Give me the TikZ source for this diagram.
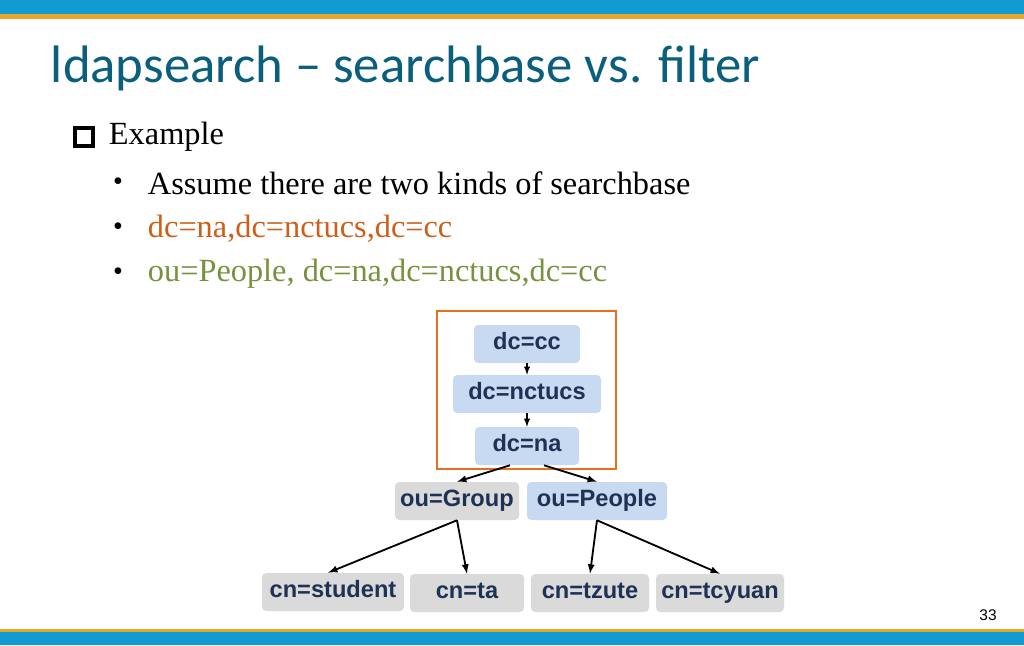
\documentclass[tikz,border=0pt]{standalone}
\usepackage{fontspec}
\setmainfont{Liberation Serif}
\newfontfamily\titlefont{Carlito}
\newfontfamily\boxfont{Liberation Sans}
\begin{document}
\begin{tikzpicture}[x=0.025cm,y=-0.025cm,
  bx/.style={rounded corners=3pt,minimum height=38*0.025cm,inner sep=0pt,text height=12pt,text depth=3.5pt,font=\boxfont\bfseries\fontsize{16.8}{19}\selectfont,text=navy},
  bl/.style={bx,fill=lblue},
  gr/.style={bx,fill=lgray},
  arr/.style={-latex,line width=1.3pt}]
\definecolor{navy}{RGB}{30,50,85}
\definecolor{lblue}{RGB}{200,218,242}
\definecolor{lgray}{RGB}{218,218,218}
\definecolor{topblue}{RGB}{18,155,210}
\definecolor{oran}{RGB}{232,165,40}
\definecolor{teal}{RGB}{10,95,125}
\definecolor{redor}{RGB}{205,95,25}
\definecolor{boxor}{RGB}{230,110,30}
\definecolor{olive}{RGB}{118,146,60}
\useasboundingbox (0,0) rectangle (1024,645);
\fill[topblue] (0,0) rectangle (1024,14);
\fill[oran] (0,14) rectangle (1024,19);
\fill[oran] (0,629) rectangle (1024,632);
\fill[topblue] (0,632) rectangle (1024,645);
\node[anchor=west,text=teal,font=\titlefont\fontsize{37.5}{42}\selectfont] (title) at (46,68) {ldapsearch – searchbase vs. filter};
\node[draw,line width=2.6pt,minimum size=12.5pt,inner sep=0pt] (sq) at (84,137) {};
\node[anchor=west,font=\fontsize{23}{27}\selectfont] (ex) at (104,137) {Example};
\node[font=\fontsize{20}{24}\selectfont] (b1) at (118,184) {•};
\node[font=\fontsize{20}{24}\selectfont] (b2) at (118,229) {•};
\node[font=\fontsize{20}{24}\selectfont] (b3) at (118,274) {•};
\node[anchor=west,font=\fontsize{23}{27}\selectfont] (t1) at (143,183) {Assume there are two kinds of searchbase};
\node[anchor=west,text=redor,font=\fontsize{23}{27}\selectfont] (t2) at (143,229) {dc=na,dc=nctucs,dc=cc};
\node[anchor=west,text=olive,font=\fontsize{23}{27}\selectfont] (t3) at (143,274) {ou=People, dc=na,dc=nctucs,dc=cc};
\node[bl,minimum width=106*0.025cm] (cc) at (527,344) {dc=cc};
\node[bl,minimum width=148*0.025cm] (nc) at (527,394) {dc=nctucs};
\node[bl,minimum width=104*0.025cm] (na) at (527,446) {dc=na};
\draw[boxor,line width=2pt] (437,311) rectangle (616,469);
\node[gr,minimum width=124*0.025cm] (grp) at (457,501) {ou=Group};
\node[bl,minimum width=140*0.025cm] (ppl) at (597,501) {ou=People};
\node[gr,minimum width=142*0.025cm] (st) at (333,592) {cn=student};
\node[gr,minimum width=114*0.025cm] (ta) at (467,593) {cn=ta};
\node[gr,minimum width=118*0.025cm] (tz) at (590,593) {cn=tzute};
\node[gr,minimum width=128*0.025cm] (tc) at (720,593) {cn=tcyuan};
\draw[arr,line width=1pt] (cc.south) -- (nc.north);
\draw[arr,line width=1pt] (nc.south) -- (na.north);
\draw[arr] ([xshift=-17*0.025cm]na.south) -- (grp.north);
\draw[arr] ([xshift=17*0.025cm]na.south) -- (ppl.north);
\draw[arr] (grp.south) -- ([xshift=-5*0.025cm]st.north);
\draw[arr] (grp.south) -- (ta.north);
\draw[arr] (ppl.south) -- (tz.north);
\draw[arr] (ppl.south) -- (tc.north);
\node[font=\boxfont\fontsize{11}{13}\selectfont] (pg) at (988,615) {33};
\end{tikzpicture}
\end{document}
